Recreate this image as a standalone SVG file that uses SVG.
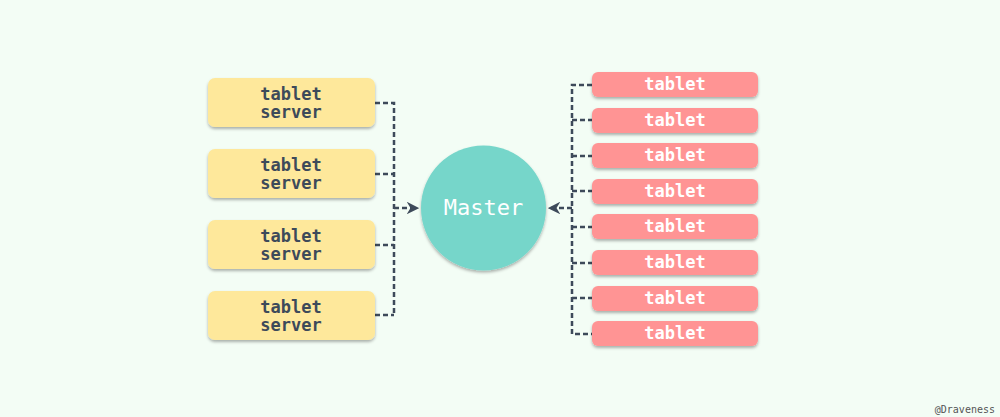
<svg xmlns="http://www.w3.org/2000/svg" width="1000" height="417" viewBox="0 0 1000 417">
<defs>
<filter id="sh" x="-10%" y="-20%" width="120%" height="160%">
<feDropShadow dx="0" dy="2" stdDeviation="1.5" flood-color="#000" flood-opacity="0.3"/>
</filter>
<marker id="ah" viewBox="0 0 10 10" refX="9" refY="5" markerWidth="5" markerHeight="5" orient="auto" markerUnits="strokeWidth">
<path d="M0,0 L10,5 L0,10 L3,5 Z" fill="#3d4a5a"/>
</marker>
<style>
.srv{fill:#fee89b;filter:url(#sh)}
.tab{fill:#ff9494;filter:url(#sh)}
.t{font-family:"DejaVu Sans Mono","Liberation Mono",monospace;font-weight:bold;font-size:17px;text-anchor:middle}
.ts{fill:#3d4a5a}
.tw{fill:#ffffff}
.c{fill:none;stroke:#3d4a5a;stroke-width:2.5;stroke-dasharray:5 3}
</style>
</defs>
<rect width="1000" height="417" fill="#f3fdf5"/>
<g id="connectors">
<path class="c" d="M375,103 H394 V315 M375,174 H394 M375,245 H394 M375,315 H394"/>
<path class="c" d="M394,208 H418" marker-end="url(#ah)"/>
<path class="c" d="M592,85 H572 V334 H592 M572,120 H592 M572,156 H592 M572,191 H592 M572,227 H592 M572,263 H592 M572,298 H592"/>
<path class="c" d="M572,208 H549" marker-end="url(#ah)"/>
</g>
<g id="server1"><rect class="srv" x="208" y="78" width="167" height="49" rx="7"/><text class="t ts" x="291" y="100">tablet</text><text class="t ts" x="291" y="118">server</text></g>
<g id="server2"><rect class="srv" x="208" y="149" width="167" height="49" rx="7"/><text class="t ts" x="291" y="171">tablet</text><text class="t ts" x="291" y="189">server</text></g>
<g id="server3"><rect class="srv" x="208" y="220" width="167" height="49" rx="7"/><text class="t ts" x="291" y="242">tablet</text><text class="t ts" x="291" y="260">server</text></g>
<g id="server4"><rect class="srv" x="208" y="291" width="167" height="49" rx="7"/><text class="t ts" x="291" y="313">tablet</text><text class="t ts" x="291" y="331">server</text></g>
<g id="master"><circle cx="483.5" cy="208" r="62.5" fill="#76d6ca" filter="url(#sh)"/><text class="t tw" x="483.5" y="215" style="font-size:22px;font-weight:normal">Master</text></g>
<g id="tablet1"><rect class="tab" x="592" y="72" width="166" height="25" rx="6"/><text class="t tw" x="675" y="90">tablet</text></g>
<g id="tablet2"><rect class="tab" x="592" y="108" width="166" height="25" rx="6"/><text class="t tw" x="675" y="126">tablet</text></g>
<g id="tablet3"><rect class="tab" x="592" y="143" width="166" height="25" rx="6"/><text class="t tw" x="675" y="161">tablet</text></g>
<g id="tablet4"><rect class="tab" x="592" y="179" width="166" height="25" rx="6"/><text class="t tw" x="675" y="197">tablet</text></g>
<g id="tablet5"><rect class="tab" x="592" y="214" width="166" height="25" rx="6"/><text class="t tw" x="675" y="232">tablet</text></g>
<g id="tablet6"><rect class="tab" x="592" y="250" width="166" height="25" rx="6"/><text class="t tw" x="675" y="268">tablet</text></g>
<g id="tablet7"><rect class="tab" x="592" y="286" width="166" height="25" rx="6"/><text class="t tw" x="675" y="304">tablet</text></g>
<g id="tablet8"><rect class="tab" x="592" y="321" width="166" height="25" rx="6"/><text class="t tw" x="675" y="339">tablet</text></g>
<text x="995" y="413" style="font-family:'DejaVu Sans Mono',monospace;font-size:10px;fill:#555;text-anchor:end">@Draveness</text>
</svg>
